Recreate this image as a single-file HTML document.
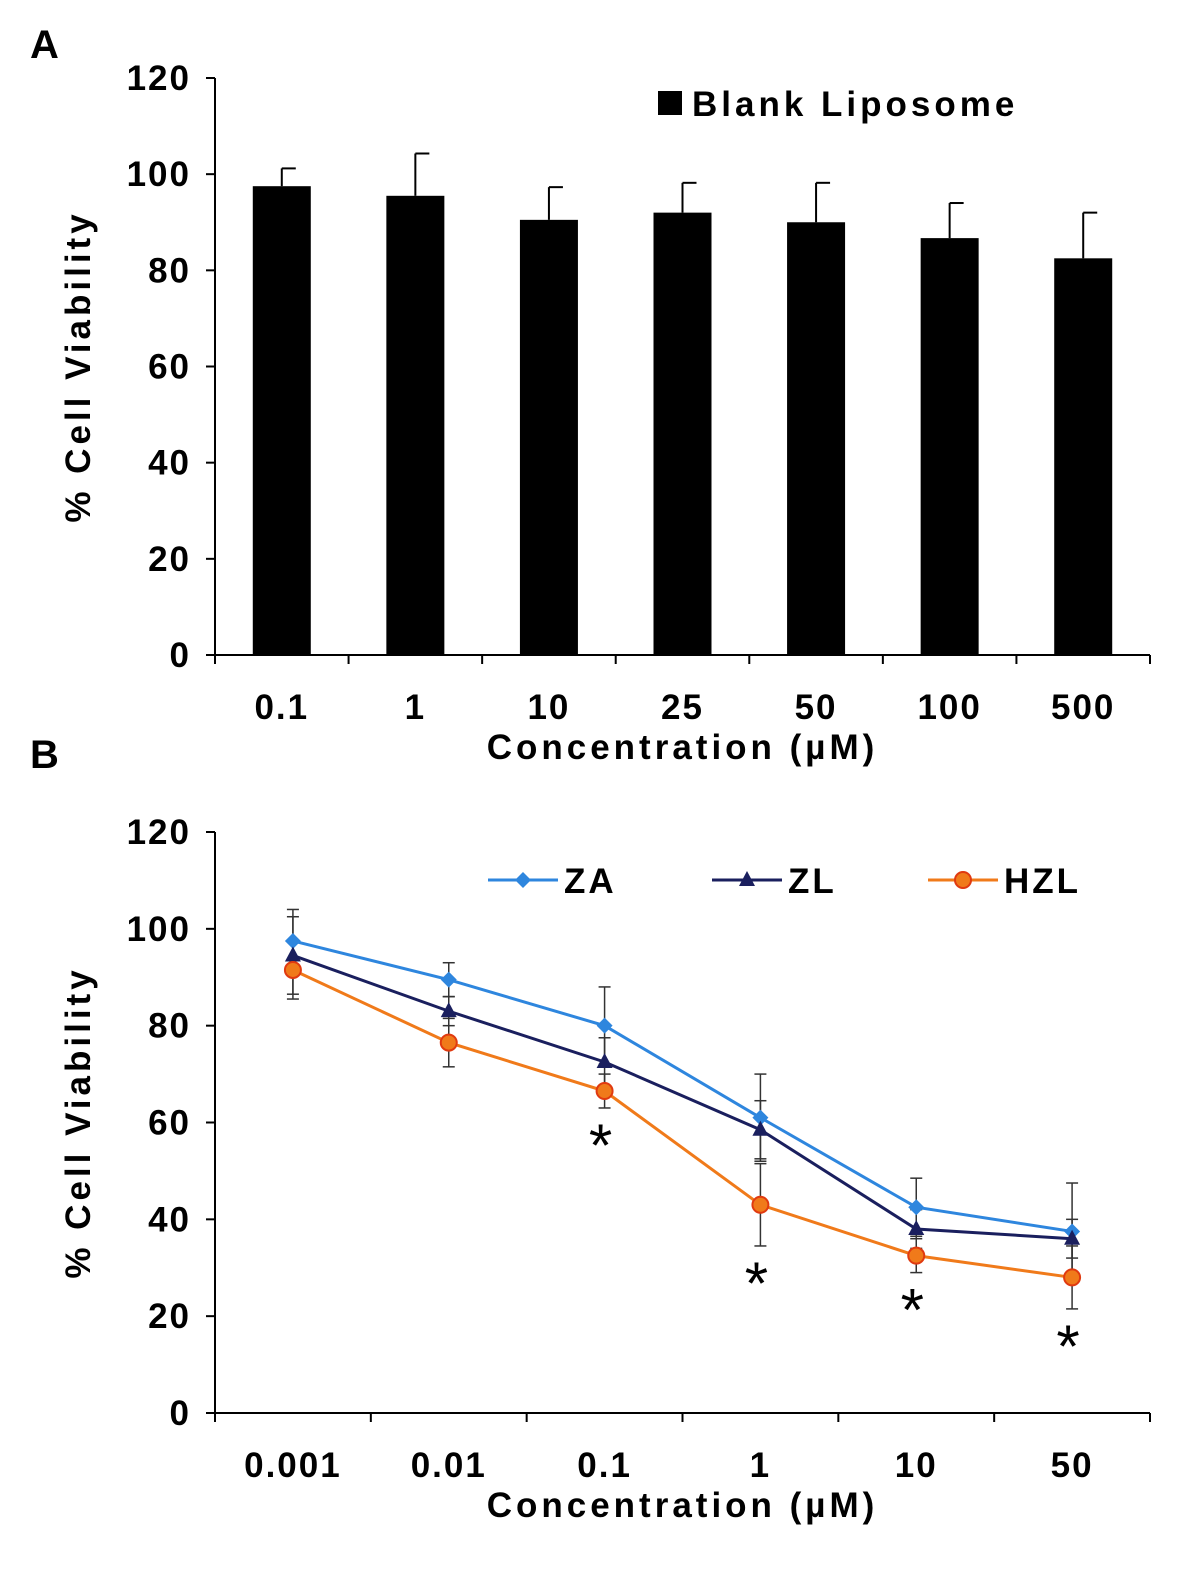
<!DOCTYPE html>
<html><head><meta charset="utf-8"><style>
html,body{margin:0;padding:0;background:#fff}
svg{display:block;font-family:"Liberation Sans",Arial,sans-serif;font-weight:bold}
</style></head><body>
<svg id="chart" width="1181" height="1575" viewBox="0 0 1181 1575" xmlns="http://www.w3.org/2000/svg">
<text x="30" y="58" font-size="40">A</text>
<text x="30" y="768" font-size="40">B</text>
<g id="ga"></g>
<g id="gb"></g>
</svg>
<script>
const aCategories=["0.1","1","10","25","50","100","500"];
const aValues=[97.5,95.5,90.5,92,90,86.7,82.5];
const aErrors=[3.7,8.8,6.8,6.2,8.2,7.3,9.5];
const yTicks=[0,20,40,60,80,100,120];
const bCategories=["0.001","0.01","0.1","1","10","50"];
const zaValues=[97.5,89.5,80,61,42.5,37.5];
const zaErrors=[6.5,3.5,8,9,6,10];
const zlValues=[94.5,83,72.5,58.5,38,36];
const zlErrors=[8,3,5,6,4,4];
const hzlValues=[91.5,76.5,66.5,43,32.5,28];
const hzlErrors=[6,5,3.5,8.5,3.5,6.5];
const starIdx=[2,3,4,5];
const NS="http://www.w3.org/2000/svg";
function mk(p,t,a,txt){const e=document.createElementNS(NS,t);for(const k in a)e.setAttribute(k,a[k]);if(txt!==undefined)e.textContent=txt;p.appendChild(e);return e;}
function axes(g,x0,x1,y0,y1,cats,name){
  const ys=v=>y0-(y0-y1)*v/120;
  mk(g,'line',{x1:x0,y1:y1,x2:x0,y2:y0,stroke:'#000','stroke-width':2});
  mk(g,'line',{x1:x0,y1:y0,x2:x1,y2:y0,stroke:'#000','stroke-width':2});
  yTicks.forEach(t=>{const y=ys(t);
    mk(g,'line',{x1:x0-9,y1:y,x2:x0,y2:y,stroke:'#000','stroke-width':2});
    const tx=mk(g,'text',{x:x0-24,y:y+12,'font-size':35,'letter-spacing':2,'text-anchor':'end'},t);
    
    });
  const w=(x1-x0)/cats.length;
  for(let i=0;i<=cats.length;i++)mk(g,'line',{x1:x0+i*w,y1:y0,x2:x0+i*w,y2:y0+9,stroke:'#000','stroke-width':2});
  cats.forEach((c,i)=>{const tx=mk(g,'text',{x:x0+(i+0.5)*w,y:y0+64,'font-size':35,'letter-spacing':2,'text-anchor':'middle'},c);
    
    });
  const yt=mk(g,'text',{transform:`translate(${x0-125},${(y0+y1)/2}) rotate(-90)`,'font-size':35,'letter-spacing':4,'text-anchor':'middle'},'% Cell  Viability');
  
  
  const xt=mk(g,'text',{x:(x0+x1)/2+0,y:y0+104,'font-size':35,'letter-spacing':4,'text-anchor':'middle'},'Concentration  (µM)');
  
  
  return {ys,xs:i=>x0+(i+0.5)*w};
}
const ga=document.getElementById('ga');
const A=axes(ga,215,1150,655,78,aCategories,'panel-a');
aValues.forEach((v,i)=>{const cx=A.xs(i);
  const e=mk(ga,'line',{x1:cx,y1:A.ys(v),x2:cx,y2:A.ys(v+aErrors[i]),stroke:'#000','stroke-width':2});
  
  
  mk(ga,'line',{x1:cx,y1:A.ys(v+aErrors[i]),x2:cx+14,y2:A.ys(v+aErrors[i]),stroke:'#000','stroke-width':2});
  const b=mk(ga,'rect',{x:cx-29,y:A.ys(v),width:58,height:A.ys(0)-A.ys(v),fill:'#000'});
  
  });
mk(ga,'rect',{x:658,y:91,width:24,height:24,fill:'#000'});
const la=mk(ga,'text',{x:692,y:116,'font-size':35,'letter-spacing':4},'Blank Liposome');


const gb=document.getElementById('gb');
const B=axes(gb,215,1150,1413,832,bCategories,'panel-b');
const series=[{n:'za',v:zaValues,e:zaErrors,c:'#2e86de',m:'diamond'},{n:'zl',v:zlValues,e:zlErrors,c:'#1a1f5e',m:'tri'},{n:'hzl',v:hzlValues,e:hzlErrors,c:'#f07a1a',m:'circ'}];
function marker(g,m,x,y,c){
  if(m==='diamond')return mk(g,'polygon',{points:`${x},${y-8} ${x+8},${y} ${x},${y+8} ${x-8},${y}`,fill:c});
  if(m==='tri')return mk(g,'polygon',{points:`${x},${y-9} ${x+8},${y+6} ${x-8},${y+6}`,fill:c});
  return mk(g,'circle',{cx:x,cy:y,r:8,fill:'#f07a1a',stroke:'#e03a10','stroke-width':2});
}
series.forEach(s=>{s.v.forEach((v,i)=>{const x=B.xs(i);
  mk(gb,'line',{x1:x,y1:B.ys(v-s.e[i]),x2:x,y2:B.ys(v+s.e[i]),stroke:'#333','stroke-width':1.5});
  mk(gb,'line',{x1:x-6,y1:B.ys(v-s.e[i]),x2:x+6,y2:B.ys(v-s.e[i]),stroke:'#333','stroke-width':1.5});
  mk(gb,'line',{x1:x-6,y1:B.ys(v+s.e[i]),x2:x+6,y2:B.ys(v+s.e[i]),stroke:'#333','stroke-width':1.5});});});
series.forEach(s=>{
  const l=mk(gb,'polyline',{points:s.v.map((v,i)=>B.xs(i)+','+B.ys(v)).join(' '),fill:'none',stroke:s.c,'stroke-width':3});
  
  
  s.v.forEach((v,i)=>{const p=marker(gb,s.m,B.xs(i),B.ys(v),s.c);
    
    });
});
starIdx.forEach(i=>{const t=mk(gb,'text',{x:B.xs(i)-4,y:B.ys(hzlValues[i]-hzlErrors[i])+58,'font-size':60,'font-weight':'normal','text-anchor':'middle'},'*');
  
  });
const leg=[['ZA',488,'#2e86de','diamond'],['ZL',712,'#1a1f5e','tri'],['HZL',928,'#f07a1a','circ']];
leg.forEach(([t,x,c,m])=>{mk(gb,'line',{x1:x,y1:880,x2:x+70,y2:880,stroke:c,'stroke-width':3});
  marker(gb,m,x+35,880,c);
  const tx=mk(gb,'text',{x:x+76,y:893,'font-size':35,'letter-spacing':3},t);
  
  });
</script>
</body></html>
